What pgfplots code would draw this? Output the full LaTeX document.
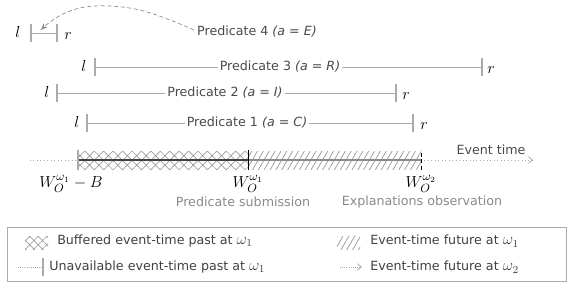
\documentclass[border=0pt]{standalone}
\usepackage{fontspec}
\setmainfont{DejaVu Sans}
\usepackage{pgfplots}
\pgfplotsset{compat=1.18}
\usetikzlibrary{patterns.meta,arrows.meta}
\definecolor{txt}{HTML}{4A4A4A}
\definecolor{ln}{HTML}{AAAAAA}
\definecolor{hc}{HTML}{9A9A9A}
\definecolor{lt}{HTML}{8A8A8A}
\definecolor{dk}{HTML}{404040}
\newcommand{\mth}[1]{{\fontsize{11.5}{13}\selectfont$#1$}}
\newcommand{\wlab}[1]{{\fontsize{12.5}{14}\selectfont$#1$}}
\begin{document}
\begin{tikzpicture}[font=\fontsize{9.5}{11.4}\selectfont]
\begin{axis}[hide axis, scale only axis, width=425.25pt, height=212.25pt,
  xmin=0, xmax=567, ymin=0, ymax=283, clip=false]
\addplot[draw=none] coordinates {(0,0) (567,283)};
% ---------- event-time axis ----------
\addplot[ln, dotted, line width=0.6pt] coordinates {(30,123) (78,123)};
\addplot[draw=none, pattern={Hatch[angle=45,distance=5pt,line width=0.5pt]}, pattern color=hc]
  coordinates {(78,114) (248,114) (248,132) (78,132) (78,114)};
\addplot[draw=none, pattern={Lines[angle=60,distance=3.8pt,line width=0.55pt]}, pattern color=hc]
  coordinates {(248,114) (421,114) (421,132) (248,132) (248,114)};
\addplot[dk, line width=1pt] coordinates {(78,123) (248,123)};
\addplot[lt, line width=1pt] coordinates {(248,123) (421,123)};
\addplot[ln, dotted, line width=0.6pt, -{Straight Barb[length=3pt,width=5pt]}] coordinates {(421,123) (533,123)};
\addplot[ln, line width=1.3pt] coordinates {(78,113) (78,133)};
\addplot[black, line width=0.7pt] coordinates {(248,113) (248,133)};
\addplot[black, densely dashed, line width=0.7pt] coordinates {(421,113) (421,133)};
\node[txt] at (axis cs:491,133) {Event time};
\node at (axis cs:71,99) {\wlab{W_O^{\omega_1}-B}};
\node at (axis cs:248,99) {\wlab{W_O^{\omega_1}}};
\node at (axis cs:421,99) {\wlab{W_O^{\omega_2}}};
\node[lt] at (axis cs:243,81) {Predicate submission};
\node[lt] at (axis cs:422,81) {Explanations observation};
% ---------- predicate 1 ----------
\addplot[ln, line width=0.6pt] coordinates {(87,160) (413,160)};
\addplot[ln, line width=0.8pt] coordinates {(87,151) (87,169)};
\addplot[ln, line width=0.8pt] coordinates {(413,151) (413,169)};
\node[txt, fill=white, inner xsep=1.5pt, inner ysep=1pt] at (axis cs:247,160) {Predicate 1 \textit{(a = C)}};
\node at (axis cs:77,161) {\mth{l}};
\node at (axis cs:424,157) {\mth{r}};
% ---------- predicate 2 ----------
\addplot[ln, line width=0.6pt] coordinates {(57,190) (396,190)};
\addplot[ln, line width=0.8pt] coordinates {(57,181) (57,199)};
\addplot[ln, line width=0.8pt] coordinates {(396,181) (396,199)};
\node[txt, fill=white, inner xsep=1.5pt, inner ysep=1pt] at (axis cs:225,190) {Predicate 2 \textit{(a = I)}};
\node at (axis cs:47,191) {\mth{l}};
\node at (axis cs:406,187) {\mth{r}};
% ---------- predicate 3 ----------
\addplot[ln, line width=0.6pt] coordinates {(95,216) (482,216)};
\addplot[ln, line width=0.8pt] coordinates {(95,207) (95,225)};
\addplot[ln, line width=0.8pt] coordinates {(482,207) (482,225)};
\node[txt, fill=white, inner xsep=1.5pt, inner ysep=1pt] at (axis cs:280,216) {Predicate 3 \textit{(a = R)}};
\node at (axis cs:84,217) {\mth{l}};
\node at (axis cs:491,213) {\mth{r}};
% ---------- predicate 4 ----------
\addplot[ln, line width=0.6pt] coordinates {(31,250) (57,250)};
\addplot[ln, line width=0.8pt] coordinates {(31,241) (31,259)};
\addplot[ln, line width=0.8pt] coordinates {(57,241) (57,259)};
\node[txt] at (axis cs:257,251) {Predicate 4 \textit{(a = E)}};
\node at (axis cs:18,251) {\mth{l}};
\node at (axis cs:68,247) {\mth{r}};
\addplot[lt, densely dashed, line width=0.5pt, smooth, tension=0.6, -{Stealth[length=5pt,width=4pt]}]
  coordinates {(194,253) (170,263) (140,273) (110,277) (85,276) (65,270) (50,261) (41,253)};
% ---------- legend ----------
\addplot[ln, line width=0.6pt] coordinates {(7,2) (566,2) (566,56) (7,56) (7,2)};
\addplot[draw=none, pattern={Hatch[angle=45,distance=4.5pt,line width=0.5pt]}, pattern color=hc]
  coordinates {(25,34) (48,34) (48,47) (25,47) (25,34)};
\node[dk, anchor=west, inner sep=0pt] at (axis cs:57,42) {Buffered event-time past at \mth{\omega_1}};
\addplot[ln, densely dotted, line width=0.6pt] coordinates {(18,16) (43,16)};
\addplot[ln, line width=0.8pt] coordinates {(43,7) (43,25)};
\node[dk, anchor=west, inner sep=0pt] at (axis cs:49,16) {Unavailable event-time past at \mth{\omega_1}};
\addplot[draw=none, pattern={Lines[angle=60,distance=3.8pt,line width=0.55pt]}, pattern color=hc]
  coordinates {(337,34) (360,34) (360,47) (337,47) (337,34)};
\node[dk, anchor=west, inner sep=0pt] at (axis cs:370,42) {Event-time future at \mth{\omega_1}};
\addplot[ln, densely dotted, line width=0.6pt, -{Straight Barb[length=3pt,width=5pt]}] coordinates {(340,16) (362,16)};
\node[dk, anchor=west, inner sep=0pt] at (axis cs:370,16) {Event-time future at \mth{\omega_2}};
\end{axis}
\end{tikzpicture}
\end{document}
